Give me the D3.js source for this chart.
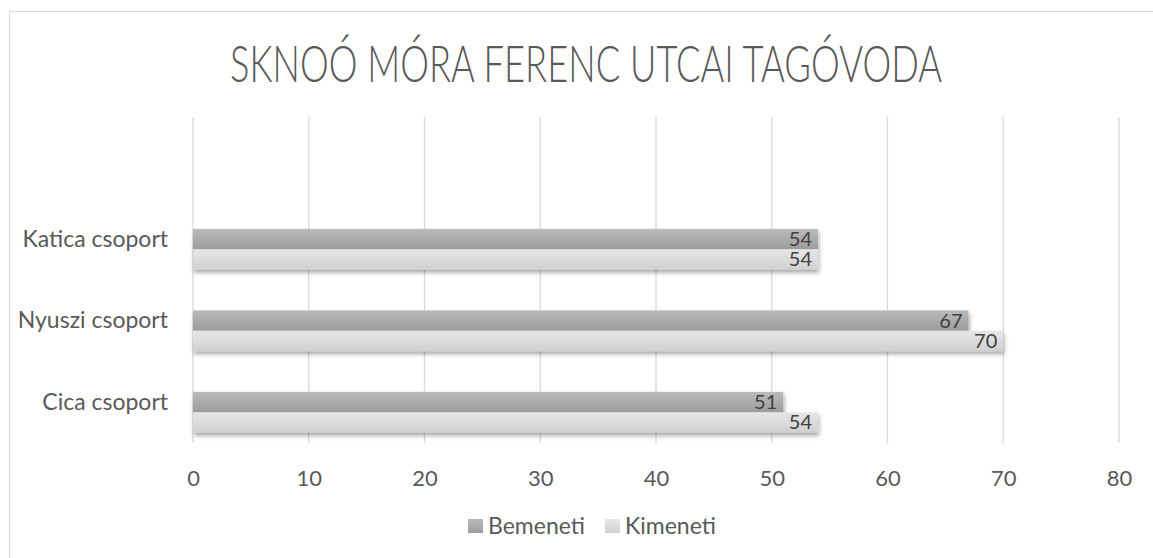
<!DOCTYPE html>
<html>
<head>
<meta charset="utf-8">
<script src="https://cdn.jsdelivr.net/npm/d3@7"></script>
<style>
  body { margin: 0; background: #fff; }
  svg text { font-family: Lato, "Open Sans", sans-serif; fill: #595959; }
</style>
</head>
<body>
<div id="chart"></div>
<script>
// chart data, bottom category first (like the spreadsheet does it)
const categories = ["Cica csoport", "Nyuszi csoport", "Katica csoport", ""];
const seriesNames = ["Bemeneti", "Kimeneti"];
const bemeneti = [51, 67, 54, null];
const kimeneti = [54, 70, 54, null];
const xTicks = [0, 10, 20, 30, 40, 50, 60, 70, 80];
const title = "SKNOÓ MÓRA FERENC UTCAI TAGÓVODA";

const width = 1153, height = 558;
const plotLeft = 193, plotRight = 1119, plotTop = 117, plotBottom = 443;
const barShift = 10; // bars sit a bit lower than the category label

const svg = d3.select("#chart").append("svg")
    .attr("width", width)
    .attr("height", height);

const defs = svg.append("defs");
const grads = [
    {id: "gDark", stops: ["#bababa", "#acacac", "#9c9c9c"]},
    {id: "gLight", stops: ["#e6e6e6", "#dcdcdc", "#d0d0d0"]}
];
grads.forEach(g => {
    const lg = defs.append("linearGradient").attr("id", g.id)
        .attr("x1", 0).attr("y1", 0).attr("x2", 0).attr("y2", 1);
    g.stops.forEach((c, i) => lg.append("stop")
        .attr("offset", (i / (g.stops.length - 1) * 100) + "%")
        .attr("stop-color", c));
});
const shadow = defs.append("filter").attr("id", "shadow")
    .attr("x", "-5%").attr("y", "-30%").attr("width", "110%").attr("height", "180%");
shadow.append("feDropShadow")
    .attr("dx", 1).attr("dy", 3).attr("stdDeviation", 2)
    .attr("flood-color", "#000").attr("flood-opacity", 0.35);

// outer chart border
svg.append("rect")
    .attr("x", 9.5).attr("y", 11.5)
    .attr("width", width + 20).attr("height", height + 20)
    .attr("fill", "none").attr("stroke", "#d9d9d9");

svg.append("text")
    .attr("x", 586).attr("y", 82)
    .attr("text-anchor", "middle")
    .attr("font-size", 51)
    .attr("font-weight", 300)
    .attr("textLength", 712)
    .attr("lengthAdjust", "spacingAndGlyphs")
    .text(title);

const x = d3.scaleLinear().domain([0, 80]).range([plotLeft, plotRight]);
const y = d3.scaleBand().domain(categories).range([plotBottom, plotTop])
    .paddingInner(0.5).paddingOuter(0.25);
const inner = d3.scaleBand().domain(seriesNames).range([0, y.bandwidth()]);

// gridlines
svg.append("g").selectAll("line").data(xTicks).join("line")
    .attr("x1", d => x(d)).attr("x2", d => x(d))
    .attr("y1", plotTop).attr("y2", plotBottom)
    .attr("stroke", "#d9d9d9").attr("stroke-width", 1.3);

const xAxis = svg.append("g")
    .attr("transform", `translate(0,${plotBottom})`)
    .call(d3.axisBottom(x).tickValues(xTicks).tickSize(0).tickPadding(27));
xAxis.select(".domain").remove();
xAxis.selectAll("text").attr("font-size", 22).style("font-family", null);

const yAxis = svg.append("g")
    .attr("transform", `translate(168,0)`)
    .call(d3.axisLeft(y).tickSize(0).tickPadding(0));
yAxis.select(".domain").remove();
yAxis.selectAll("text").attr("font-size", 23).style("font-family", null);

const rows = [];
categories.forEach((c, i) => {
    if (bemeneti[i] != null) rows.push({cat: c, s: "Bemeneti", v: bemeneti[i], fill: "url(#gDark)"});
    if (kimeneti[i] != null) rows.push({cat: c, s: "Kimeneti", v: kimeneti[i], fill: "url(#gLight)"});
});

const bars = svg.append("g").attr("transform", `translate(0,${barShift})`);
bars.selectAll("rect").data(rows).join("rect")
    .attr("x", x(0))
    .attr("y", d => y(d.cat) + inner(d.s))
    .attr("width", d => x(d.v) - x(0))
    .attr("height", inner.bandwidth())
    .attr("fill", d => d.fill)
    .attr("filter", "url(#shadow)");

bars.selectAll("text").data(rows).join("text")
    .attr("x", d => x(d.v) - 6)
    .attr("y", d => y(d.cat) + inner(d.s) + inner.bandwidth() / 2)
    .attr("dy", "0.35em")
    .attr("text-anchor", "end")
    .attr("font-size", 20)
    .style("fill", "#404040")
    .text(d => d.v);

// legend
const legendX = [468, 605];
const legend = svg.append("g").selectAll("g").data(seriesNames).join("g")
    .attr("transform", (d, i) => `translate(${legendX[i]},519)`);
legend.append("rect")
    .attr("width", 15).attr("height", 14)
    .attr("fill", (d, i) => i === 0 ? "url(#gDark)" : "url(#gLight)");
legend.append("text")
    .attr("x", 20).attr("y", 15)
    .attr("font-size", 23)
    .text(d => d);
</script>
</body>
</html>
